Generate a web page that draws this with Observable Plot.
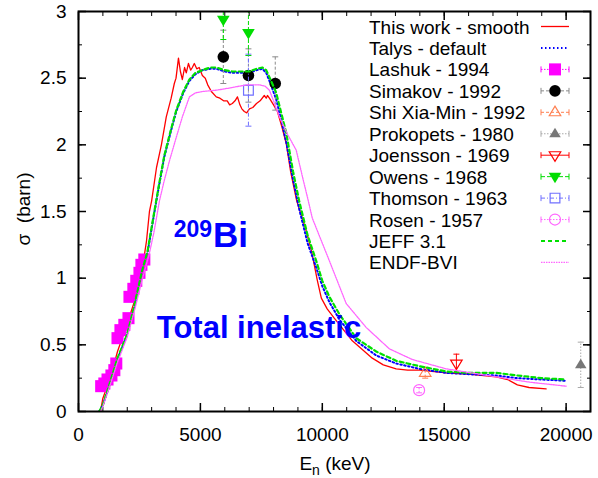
<!DOCTYPE html>
<html><head><meta charset="utf-8">
<script src="https://cdn.jsdelivr.net/npm/d3@7"></script>
<script src="https://cdn.jsdelivr.net/npm/@observablehq/plot@0.6"></script>
<style>body{margin:0;background:#fff} svg{display:block}</style>
</head><body><div id="chart"></div>
<script>
// ---------- data (E in keV, sigma in barn) ----------
const thisWorkE = [900,1000,1300,1600,2000,2300,2600,2790,2910,3000,3200,3400,3600,3800,3930,4000,4100,4180,4260,4350,4420,4510,4600,4670,4750,4850,4950,5080,5200,5300,5450,5650,5800,5950,6100,6200,6310,6420,6520,6620,6700,6800,6900,7010,7150,7300,7450,7620,7700,7750,7830,8000,8160,8350,8520,8700,8950,9300,9550,9800,9960,10200,10490,11230,12050,12500,13030,13500,14000,15080,16000,17130,17600,18000,18480,19180];
const thisWorkSigma = [0,0.1,0.25,0.45,0.66,0.83,1.05,1.28,1.5,1.58,1.83,2.0,2.21,2.35,2.46,2.5,2.65,2.55,2.49,2.58,2.54,2.61,2.56,2.58,2.61,2.57,2.58,2.52,2.5,2.45,2.4,2.36,2.35,2.33,2.33,2.3,2.31,2.33,2.36,2.3,2.27,2.25,2.24,2.27,2.28,2.31,2.33,2.37,2.35,2.37,2.35,2.3,2.25,2.13,2.01,1.8,1.58,1.38,1.21,0.98,0.85,0.77,0.7,0.53,0.4,0.35,0.32,0.31,0.31,0.29,0.28,0.26,0.24,0.2,0.18,0.17];

const talysE = [850,1000,1300,1600,2000,2300,2600,2830,3110,3300,3520,3800,4010,4300,4550,4800,5080,5400,5650,6000,6310,6700,7010,7300,7540,7700,7850,8110,8300,8520,8800,9050,9400,9750,10000,10290,10700,11390,12210,13030,13980,15080,16000,17130,18000,19000,20000];
const talysSigma = [0,0.05,0.21,0.39,0.58,0.79,1.04,1.19,1.49,1.69,1.91,2.11,2.25,2.39,2.48,2.53,2.56,2.57,2.57,2.55,2.54,2.54,2.54,2.56,2.57,2.54,2.47,2.34,2.2,2.02,1.74,1.52,1.26,1.08,0.94,0.82,0.69,0.53,0.42,0.36,0.32,0.29,0.28,0.27,0.25,0.24,0.23];

const jeffE = [850,1000,1300,1600,2000,2300,2600,2830,3110,3300,3520,3800,4010,4300,4550,4800,5080,5400,5650,6000,6310,6700,7010,7300,7540,7700,7850,8110,8300,8520,8800,9050,9400,9750,10000,10290,10700,11390,12210,13030,13980,15080,16000,17130,18000,19000,20000];
const jeffSigma = [0,0.05,0.22,0.4,0.58,0.8,1.05,1.2,1.5,1.7,1.92,2.12,2.26,2.4,2.49,2.54,2.56,2.58,2.58,2.56,2.55,2.55,2.55,2.57,2.58,2.56,2.5,2.39,2.25,2.09,1.8,1.58,1.32,1.13,0.98,0.86,0.73,0.55,0.45,0.38,0.34,0.3,0.29,0.29,0.27,0.25,0.24];

const endfE = [900,1000,1300,1600,2000,2300,2600,2900,3100,3320,3500,3730,4000,4260,4550,4800,5080,5650,6000,6310,6890,7420,7650,7830,8000,8240,8600,8930,9200,9400,9590,10290,10980,11800,12750,13690,15080,17130,18500,20000];
const endfSigma = [0,0.04,0.2,0.37,0.56,0.76,0.98,1.18,1.35,1.58,1.72,1.88,2.05,2.21,2.36,2.39,2.4,2.41,2.42,2.43,2.45,2.45,2.44,2.41,2.33,2.21,2.07,1.96,1.75,1.6,1.45,1.13,0.81,0.63,0.47,0.39,0.32,0.26,0.22,0.19];

const lashukE = [930,1060,1190,1350,1470,1550,1600,1720,1880,2050,2090,2250,2370,2500,2580,2700];
const lashukSigma = [0.19,0.21,0.24,0.27,0.31,0.36,0.55,0.61,0.65,0.70,0.86,0.92,0.98,1.04,1.10,1.14];
const lashukErr = [0.03,0.03,0.03,0.03,0.03,0.03,0.03,0.03,0.03,0.03,0.03,0.03,0.03,0.03,0.03,0.03];

const simakovE = [5940,6970,8070];
const simakovSigma = [2.66,2.52,2.46];
const simakovErr = [0.2,0.2,0.2];

const shiE = [14220]; const shiSigma = [0.29]; const shiErr = [0.04];
const prokopetsE = [20600]; const prokopetsSigma = [0.35]; const prokopetsErr = [0.17];
const joenssonE = [15500]; const joenssonSigma = [0.36]; const joenssonErr = [0.07];
const owensE = [5940,6970]; const owensSigma = [2.94,2.84]; const owensErr = [0.15,0.17];
const thomsonE = [6970]; const thomsonSigma = [2.41]; const thomsonErr = [0.27];
const rosenE = [13970]; const rosenSigma = [0.16]; const rosenErr = [0.02];

const xMajor = [0,5000,10000,15000,20000];
const xMinor = d3.range(0,21001,1000);
const yMajor = [0,0.5,1,1.5,2,2.5,3];
const yMinor = d3.range(0,3.001,0.25);

const legendLabels = ["This work - smooth","Talys - default","Lashuk - 1994","Simakov - 1992","Shi Xia-Min - 1992","Prokopets - 1980","Joensson - 1969","Owens - 1968","Thomson - 1963","Rosen - 1957","JEFF 3.1","ENDF-BVI"];

// ---------- helpers ----------
const rows = (E,S) => E.map((e,i)=>({E:e,S:S[i]}));
const pts = (E,S,Er) => E.map((e,i)=>({E:e,S:S[i],err:Er[i]}));
const hbar = {draw(ctx,size){const w=Math.sqrt(size/Math.PI); ctx.moveTo(-w,0); ctx.lineTo(w,0);}};
const triDown = {draw(ctx,size){const r=Math.sqrt(size/Math.PI)*1.15; ctx.moveTo(-r,-r*0.6); ctx.lineTo(r,-r*0.6); ctx.lineTo(0,r*1.05); ctx.closePath();}};
const triUp = {draw(ctx,size){const r=Math.sqrt(size/Math.PI)*1.15; ctx.moveTo(-r,r*0.6); ctx.lineTo(r,r*0.6); ctx.lineTo(0,-r*1.05); ctx.closePath();}};

const C = {
  red:"#ff0000", blue:"#0000ff", mag:"#ff00ff", gray:"#8a8a8a", coral:"#ff7f50",
  green:"#00dd00", thomson:"#7070ff", rosen:"#ff66ff", endf:"#ff66ff", jeff:"#00e000"
};

const styles = [
  {type:"line", stroke:C.red, width:1.3, dash:null},
  {type:"line", stroke:C.blue, width:2, dash:"1.5,2.5"},
  {type:"pt", symbol:"square", r:6.8, fill:C.mag, stroke:"none", err:C.mag, errDash:"1.5,1.5"},
  {type:"pt", symbol:"circle", r:5.8, fill:"#000", stroke:"none", err:C.gray, errDash:"3,2"},
  {type:"pt", symbol:triUp, r:5, fill:"none", stroke:C.coral, err:C.coral, errDash:"3,2"},
  {type:"pt", symbol:triUp, r:5, fill:"#777", stroke:"none", err:"#aaa", errDash:"1.5,1.5"},
  {type:"pt", symbol:triDown, r:5, fill:"none", stroke:C.red, err:C.red, errDash:null},
  {type:"pt", symbol:triDown, r:5.5, fill:C.green, stroke:"none", err:C.green, errDash:"4,2"},
  {type:"pt", symbol:"square", r:5.5, fill:"none", stroke:C.thomson, err:C.thomson, errDash:"4,2,1,2"},
  {type:"pt", symbol:"circle", r:5.5, fill:"none", stroke:C.rosen, err:C.rosen, errDash:"1.5,1.5"},
  {type:"line", stroke:C.jeff, width:2.2, dash:"4,3"},
  {type:"line", stroke:C.endf, width:1.3, dash:"1.5,1"}
];

function lineMark(data, st){
  return Plot.line(data,{x:"E",y:"S",stroke:st.stroke,strokeWidth:st.width,strokeDasharray:st.dash,clip:true});
}
function expMarks(data, st){
  return [
    Plot.ruleX(data,{x:"E",y1:d=>d.S-d.err,y2:d=>d.S+d.err,stroke:st.err,strokeWidth:1,strokeDasharray:st.errDash,clip:true}),
    Plot.dot(data,{x:"E",y:d=>d.S-d.err,symbol:hbar,r:3,stroke:st.err,fill:"none",strokeWidth:1,clip:true}),
    Plot.dot(data,{x:"E",y:d=>d.S+d.err,symbol:hbar,r:3,stroke:st.err,fill:"none",strokeWidth:1,clip:true}),
    Plot.dot(data,{x:"E",y:"S",symbol:st.symbol,r:st.r,fill:st.fill,stroke:st.stroke,strokeWidth:1.2})
  ];
}

const plot = Plot.plot({
  width:598, height:478,
  marginLeft:78, marginRight:8, marginTop:11, marginBottom:67,
  style:{background:"#fff", color:"#000", fontFamily:"'Liberation Sans', Arial, sans-serif", fontSize:"19px"},
  x:{domain:[0,21000]},
  y:{domain:[0,3]},
  marks:[
    Plot.axisX({anchor:"bottom", ticks:xMinor, tickSize:-4, fill:"none", label:null}),
    Plot.axisX({anchor:"top", ticks:xMinor, tickSize:-4, fill:"none", label:null}),
    Plot.axisX({anchor:"bottom", ticks:xMajor, tickSize:-8, strokeWidth:1.5, fill:"none", label:null}),
    Plot.axisX({anchor:"top", ticks:xMajor, tickSize:-8, strokeWidth:1.5, fill:"none", label:null}),
    Plot.axisY({anchor:"left", ticks:yMinor, tickSize:-4, fill:"none", label:null}),
    Plot.axisY({anchor:"right", ticks:yMinor, tickSize:-4, fill:"none", label:null}),
    Plot.axisY({anchor:"left", ticks:yMajor, tickSize:-8, strokeWidth:1.5, fill:"none", label:null}),
    Plot.axisY({anchor:"right", ticks:yMajor, tickSize:-8, strokeWidth:1.5, fill:"none", label:null}),
    Plot.axisX({anchor:"bottom", ticks:xMajor, tickSize:0, tickPadding:16, tickFormat:d=>String(d), label:null}),
    Plot.axisY({anchor:"left", ticks:yMajor, tickSize:0, tickPadding:12, tickFormat:d=>String(d), label:null}),
    lineMark(rows(thisWorkE,thisWorkSigma), styles[0]),
    lineMark(rows(talysE,talysSigma), styles[1]),
    expMarks(pts(lashukE,lashukSigma,lashukErr), styles[2]),
    expMarks(pts(simakovE,simakovSigma,simakovErr), styles[3]),
    expMarks(pts(shiE,shiSigma,shiErr), styles[4]),
    expMarks(pts(prokopetsE,prokopetsSigma,prokopetsErr), styles[5]),
    expMarks(pts(joenssonE,joenssonSigma,joenssonErr), styles[6]),
    expMarks(pts(owensE,owensSigma,owensErr), styles[7]),
    expMarks(pts(thomsonE,thomsonSigma,thomsonErr), styles[8]),
    expMarks(pts(rosenE,rosenSigma,rosenErr), styles[9]),
    lineMark(rows(jeffE,jeffSigma), styles[10]),
    lineMark(rows(endfE,endfSigma), styles[11]),
    Plot.frame({stroke:"#000", strokeWidth:2})
  ]
});
document.getElementById("chart").append(plot);

// ---------- overlay text: labels, annotations, legend ----------
const svg = d3.select(plot);
const sx = plot.scale("x"), sy = plot.scale("y");
const font = "'Liberation Sans', Arial, sans-serif";

const xl = svg.append("text").attr("x",335).attr("y",470).attr("text-anchor","middle")
  .attr("font-family",font).attr("font-size",19).attr("fill","#000");
xl.append("tspan").text("E");
xl.append("tspan").attr("dy",5).attr("font-size",14).text("n");
xl.append("tspan").attr("dy",-5).text(" (keV)");
svg.append("text").attr("transform","translate(30,209) rotate(-90)").attr("text-anchor","middle")
  .attr("font-family",font).attr("font-size",19).attr("fill","#000").text("σ  (barn)");

const bx = sx.apply(5500), by = sy.apply(1.23);
svg.append("text").attr("x",bx).attr("y",by-10).attr("text-anchor","end")
  .attr("font-family",font).attr("font-weight","bold").attr("font-size",23).attr("fill","#0000ff").text("209");
svg.append("text").attr("x",bx+1).attr("y",by).attr("text-anchor","start")
  .attr("font-family",font).attr("font-weight","bold").attr("font-size",35).attr("fill","#0000ff").text("Bi");
svg.append("text").attr("x",sx.apply(3230)).attr("y",sy.apply(0.55)).attr("text-anchor","start")
  .attr("font-family",font).attr("font-weight","bold").attr("font-size",31).attr("fill","#0000ff").text("Total inelastic");

const lg = svg.append("g");
const rowH = 21.45, y0 = 26.5, tx = 369, lx1 = 541, lx2 = 569, lxm = 555;
legendLabels.forEach((lab,i)=>{
  const y = y0 + i*rowH, st = styles[i];
  lg.append("text").attr("x",tx).attr("y",y+7).attr("text-anchor","start").attr("font-family",font).attr("font-size",19).attr("fill","#000").text(lab);
  if (st.type==="line"){
    lg.append("line").attr("x1",lx1).attr("x2",lx2).attr("y1",y).attr("y2",y)
      .attr("stroke",st.stroke).attr("stroke-width",st.width).attr("stroke-dasharray",st.dash);
  } else {
    lg.append("line").attr("x1",lx1).attr("x2",lx2).attr("y1",y).attr("y2",y)
      .attr("stroke",st.err).attr("stroke-width",1).attr("stroke-dasharray",st.errDash);
    [lx1,lx2].forEach(x=>lg.append("line").attr("x1",x).attr("x2",x).attr("y1",y-3).attr("y2",y+3).attr("stroke",st.err));
    const sym = typeof st.symbol==="string" ? (st.symbol==="square"?d3.symbolSquare:d3.symbolCircle) : st.symbol;
    lg.append("path").attr("transform",`translate(${lxm},${y})`)
      .attr("d", d3.symbol(sym, Math.PI*st.r*st.r)())
      .attr("fill",st.fill).attr("stroke",st.stroke).attr("stroke-width",1.2);
  }
});
</script>
</body></html>
